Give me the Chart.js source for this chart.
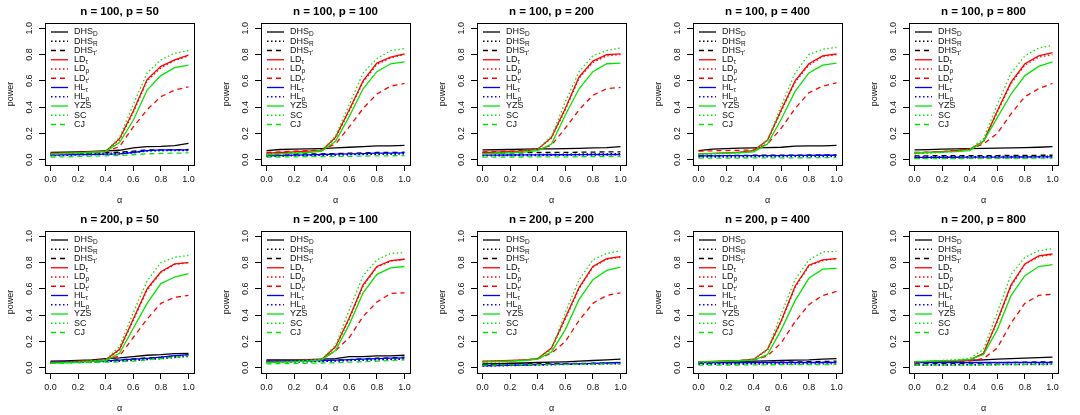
<!DOCTYPE html>
<html>
<head>
<meta charset="utf-8">
<script src="https://cdn.jsdelivr.net/npm/chart.js@4.4.1/dist/chart.umd.min.js"></script>
<style>
  html, body { margin: 0; padding: 0; background: #fff; width: 1080px; height: 415px; overflow: hidden; }
  .panel { position: absolute; width: 216px; height: 207px; }
</style>
</head>
<body>
<div id="wrap"></div>
<script>
// x values and ticks
const alphas = [0, 0.1, 0.2, 0.3, 0.4, 0.5, 0.6, 0.7, 0.8, 0.9, 1.0];
const xTicks = [0, 0.2, 0.4, 0.6, 0.8, 1.0];
const yTicks = [0, 0.2, 0.4, 0.6, 0.8, 1.0];
const panelTitles = [
  "n = 100, p = 50", "n = 100, p = 100", "n = 100, p = 200", "n = 100, p = 400", "n = 100, p = 800",
  "n = 200, p = 50", "n = 200, p = 100", "n = 200, p = 200", "n = 200, p = 400", "n = 200, p = 800"
];
const legendMain = ["DHS", "DHS", "DHS", "LD", "LD", "LD", "HL", "HL", "YZS", "SC", "CJ"];
const legendSub = ["D", "R", "τ′", "τ", "ρ", "τ′", "τ", "ρ", "", "", ""];

// power curves, one row per panel (same order as panelTitles)
const DHS_D = [
  [0.055,0.058,0.060,0.063,0.068,0.072,0.090,0.100,0.102,0.108,0.125],
  [0.070,0.078,0.080,0.082,0.085,0.090,0.095,0.100,0.105,0.105,0.110],
  [0.075,0.076,0.078,0.080,0.082,0.083,0.085,0.087,0.090,0.092,0.100],
  [0.070,0.080,0.085,0.088,0.090,0.092,0.095,0.103,0.105,0.105,0.110],
  [0.075,0.077,0.080,0.082,0.085,0.087,0.088,0.090,0.092,0.095,0.100],
  [0.050,0.052,0.055,0.060,0.070,0.075,0.085,0.095,0.100,0.108,0.110],
  [0.060,0.060,0.060,0.061,0.065,0.070,0.085,0.085,0.090,0.090,0.095],
  [0.030,0.032,0.034,0.036,0.040,0.042,0.045,0.050,0.055,0.060,0.065],
  [0.040,0.042,0.045,0.047,0.050,0.052,0.055,0.058,0.060,0.065,0.070],
  [0.045,0.048,0.050,0.053,0.057,0.060,0.065,0.070,0.073,0.077,0.080]
];
const DHS_R = [
  [0.040,0.042,0.045,0.047,0.050,0.052,0.060,0.068,0.070,0.072,0.072],
  [0.030,0.032,0.033,0.035,0.035,0.036,0.038,0.040,0.042,0.042,0.045],
  [0.035,0.036,0.037,0.038,0.040,0.040,0.042,0.043,0.045,0.045,0.047],
  [0.025,0.026,0.027,0.028,0.028,0.029,0.030,0.030,0.031,0.032,0.032],
  [0.022,0.022,0.023,0.023,0.024,0.024,0.025,0.025,0.026,0.026,0.027],
  [0.040,0.042,0.044,0.046,0.048,0.050,0.056,0.062,0.068,0.078,0.085],
  [0.045,0.046,0.047,0.048,0.050,0.052,0.055,0.058,0.060,0.062,0.065],
  [0.020,0.021,0.022,0.023,0.024,0.025,0.026,0.027,0.028,0.029,0.030],
  [0.030,0.031,0.032,0.033,0.034,0.035,0.036,0.037,0.038,0.040,0.042],
  [0.020,0.021,0.022,0.023,0.024,0.025,0.026,0.027,0.028,0.029,0.030]
];
const DHS_T = [
  [0.045,0.047,0.050,0.052,0.055,0.057,0.065,0.075,0.075,0.076,0.078],
  [0.040,0.042,0.043,0.045,0.045,0.047,0.050,0.052,0.055,0.055,0.057],
  [0.050,0.051,0.052,0.053,0.055,0.055,0.056,0.057,0.058,0.060,0.060],
  [0.030,0.031,0.032,0.033,0.034,0.034,0.035,0.035,0.036,0.036,0.037],
  [0.030,0.030,0.031,0.031,0.032,0.032,0.032,0.033,0.033,0.034,0.034],
  [0.042,0.044,0.046,0.050,0.055,0.060,0.068,0.075,0.080,0.090,0.098],
  [0.050,0.051,0.052,0.053,0.055,0.058,0.062,0.068,0.072,0.075,0.080],
  [0.025,0.026,0.027,0.028,0.030,0.031,0.032,0.033,0.034,0.035,0.036],
  [0.035,0.036,0.037,0.038,0.040,0.041,0.042,0.044,0.046,0.048,0.050],
  [0.030,0.031,0.032,0.033,0.035,0.036,0.038,0.040,0.042,0.044,0.045]
];
const LD_T = [
  [0.050,0.052,0.055,0.060,0.065,0.160,0.370,0.610,0.710,0.760,0.795],
  [0.050,0.055,0.060,0.065,0.070,0.170,0.380,0.600,0.735,0.780,0.805],
  [0.055,0.058,0.062,0.068,0.080,0.170,0.390,0.630,0.750,0.800,0.805],
  [0.045,0.048,0.052,0.058,0.070,0.150,0.380,0.600,0.730,0.790,0.805],
  [0.050,0.055,0.062,0.070,0.080,0.140,0.370,0.590,0.730,0.790,0.815],
  [0.040,0.045,0.050,0.055,0.060,0.140,0.370,0.600,0.730,0.790,0.800],
  [0.050,0.052,0.055,0.058,0.062,0.160,0.380,0.630,0.770,0.815,0.825],
  [0.050,0.052,0.055,0.060,0.070,0.150,0.380,0.610,0.770,0.830,0.845],
  [0.045,0.048,0.052,0.056,0.065,0.140,0.360,0.620,0.780,0.820,0.830],
  [0.040,0.044,0.048,0.052,0.060,0.110,0.360,0.630,0.790,0.850,0.865]
];
const LD_R = [
  [0.045,0.048,0.052,0.058,0.063,0.150,0.360,0.600,0.700,0.755,0.790],
  [0.045,0.050,0.055,0.062,0.068,0.165,0.370,0.590,0.725,0.775,0.800],
  [0.052,0.055,0.060,0.066,0.078,0.165,0.380,0.620,0.740,0.790,0.800],
  [0.042,0.045,0.050,0.056,0.068,0.145,0.370,0.590,0.720,0.785,0.800],
  [0.048,0.053,0.060,0.068,0.078,0.135,0.360,0.580,0.720,0.780,0.800],
  [0.038,0.043,0.048,0.053,0.058,0.135,0.360,0.590,0.725,0.785,0.800],
  [0.048,0.050,0.053,0.056,0.060,0.155,0.370,0.620,0.765,0.810,0.825],
  [0.048,0.050,0.053,0.058,0.068,0.145,0.370,0.600,0.765,0.825,0.840],
  [0.043,0.046,0.050,0.054,0.063,0.135,0.350,0.610,0.775,0.815,0.830],
  [0.038,0.042,0.046,0.050,0.058,0.108,0.350,0.620,0.785,0.845,0.860]
];
const LD_T2 = [
  [0.048,0.050,0.053,0.058,0.062,0.100,0.250,0.380,0.480,0.530,0.555],
  [0.055,0.060,0.065,0.070,0.075,0.120,0.250,0.390,0.500,0.560,0.580],
  [0.060,0.062,0.066,0.070,0.078,0.110,0.240,0.380,0.490,0.540,0.550],
  [0.065,0.068,0.070,0.072,0.075,0.120,0.240,0.390,0.510,0.560,0.585],
  [0.055,0.058,0.062,0.070,0.080,0.120,0.200,0.350,0.480,0.540,0.580],
  [0.040,0.044,0.048,0.052,0.058,0.090,0.230,0.370,0.490,0.535,0.550],
  [0.045,0.048,0.052,0.056,0.062,0.130,0.230,0.390,0.500,0.565,0.570],
  [0.045,0.048,0.052,0.058,0.068,0.110,0.200,0.360,0.490,0.550,0.570],
  [0.040,0.043,0.046,0.050,0.058,0.090,0.190,0.350,0.480,0.550,0.580],
  [0.035,0.038,0.042,0.046,0.052,0.070,0.150,0.340,0.490,0.550,0.560]
];
const HL_T = [
  [0.035,0.037,0.040,0.040,0.042,0.045,0.055,0.070,0.075,0.075,0.075],
  [0.030,0.032,0.035,0.037,0.040,0.042,0.045,0.047,0.050,0.050,0.052],
  [0.035,0.035,0.036,0.037,0.037,0.038,0.038,0.039,0.040,0.040,0.040],
  [0.030,0.030,0.031,0.031,0.032,0.032,0.032,0.033,0.033,0.034,0.034],
  [0.018,0.018,0.019,0.019,0.020,0.020,0.020,0.021,0.021,0.022,0.022],
  [0.040,0.042,0.045,0.048,0.052,0.058,0.065,0.072,0.080,0.092,0.100],
  [0.050,0.051,0.052,0.053,0.055,0.058,0.062,0.066,0.070,0.073,0.075],
  [0.015,0.017,0.019,0.021,0.023,0.025,0.027,0.030,0.033,0.036,0.040],
  [0.040,0.040,0.040,0.040,0.040,0.040,0.040,0.040,0.040,0.040,0.040],
  [0.040,0.040,0.040,0.040,0.040,0.040,0.040,0.040,0.040,0.040,0.040]
];
const HL_R = [
  [0.030,0.033,0.036,0.038,0.040,0.043,0.052,0.066,0.070,0.070,0.070],
  [0.025,0.027,0.030,0.032,0.035,0.037,0.040,0.042,0.045,0.045,0.047],
  [0.030,0.030,0.031,0.032,0.032,0.033,0.034,0.035,0.036,0.036,0.037],
  [0.020,0.020,0.021,0.021,0.022,0.022,0.022,0.023,0.023,0.024,0.024],
  [0.012,0.012,0.013,0.013,0.014,0.014,0.014,0.015,0.015,0.016,0.016],
  [0.035,0.038,0.040,0.043,0.047,0.052,0.058,0.066,0.074,0.086,0.095],
  [0.040,0.042,0.043,0.045,0.047,0.050,0.054,0.058,0.062,0.066,0.068],
  [0.012,0.014,0.016,0.018,0.020,0.022,0.024,0.027,0.030,0.033,0.036],
  [0.025,0.025,0.026,0.026,0.027,0.027,0.028,0.028,0.029,0.029,0.030],
  [0.020,0.020,0.021,0.021,0.022,0.022,0.023,0.023,0.024,0.024,0.025]
];
const YZS = [
  [0.045,0.048,0.052,0.057,0.062,0.130,0.300,0.530,0.640,0.700,0.720],
  [0.040,0.045,0.050,0.055,0.065,0.140,0.330,0.540,0.670,0.730,0.745],
  [0.045,0.048,0.052,0.058,0.070,0.120,0.340,0.540,0.670,0.730,0.735],
  [0.045,0.047,0.050,0.053,0.060,0.120,0.310,0.520,0.660,0.720,0.735],
  [0.055,0.056,0.058,0.062,0.070,0.140,0.320,0.500,0.640,0.710,0.745],
  [0.035,0.038,0.042,0.048,0.055,0.110,0.300,0.490,0.640,0.690,0.715],
  [0.040,0.042,0.045,0.050,0.060,0.130,0.330,0.570,0.710,0.760,0.770],
  [0.045,0.047,0.050,0.055,0.065,0.120,0.290,0.520,0.670,0.740,0.765],
  [0.045,0.047,0.050,0.053,0.058,0.100,0.290,0.510,0.680,0.750,0.755],
  [0.045,0.048,0.052,0.056,0.062,0.100,0.290,0.550,0.700,0.770,0.785]
];
const SC = [
  [0.040,0.045,0.050,0.055,0.062,0.170,0.420,0.660,0.760,0.810,0.830],
  [0.035,0.042,0.050,0.058,0.068,0.180,0.420,0.660,0.770,0.830,0.845],
  [0.045,0.050,0.056,0.064,0.080,0.180,0.440,0.670,0.790,0.830,0.850],
  [0.040,0.044,0.048,0.054,0.065,0.150,0.410,0.660,0.800,0.840,0.855],
  [0.045,0.050,0.056,0.064,0.080,0.160,0.420,0.660,0.790,0.850,0.870],
  [0.035,0.040,0.046,0.052,0.060,0.160,0.420,0.660,0.800,0.840,0.855],
  [0.040,0.044,0.050,0.056,0.065,0.170,0.440,0.700,0.820,0.870,0.875],
  [0.040,0.044,0.050,0.056,0.070,0.140,0.420,0.670,0.820,0.870,0.890],
  [0.040,0.044,0.050,0.055,0.065,0.140,0.410,0.670,0.820,0.880,0.885],
  [0.045,0.050,0.056,0.062,0.070,0.140,0.420,0.710,0.840,0.890,0.905]
];
const CJ = [
  [0.020,0.022,0.025,0.027,0.030,0.032,0.038,0.045,0.048,0.050,0.052],
  [0.020,0.021,0.022,0.023,0.024,0.025,0.026,0.028,0.030,0.030,0.032],
  [0.020,0.020,0.021,0.021,0.022,0.022,0.022,0.023,0.023,0.024,0.024],
  [0.012,0.012,0.013,0.013,0.014,0.014,0.014,0.015,0.015,0.016,0.016],
  [0.008,0.008,0.009,0.009,0.010,0.010,0.010,0.011,0.011,0.012,0.012],
  [0.035,0.036,0.038,0.040,0.042,0.045,0.050,0.060,0.070,0.080,0.090],
  [0.030,0.031,0.032,0.034,0.036,0.038,0.042,0.046,0.050,0.055,0.060],
  [0.020,0.021,0.022,0.023,0.024,0.025,0.026,0.027,0.028,0.029,0.030],
  [0.020,0.020,0.021,0.021,0.022,0.022,0.023,0.023,0.024,0.024,0.025],
  [0.018,0.019,0.020,0.020,0.021,0.022,0.023,0.024,0.025,0.026,0.027]
];

const FONT = "'Liberation Sans', Arial, Helvetica, sans-serif";
const RED = "#ff0000", BLUE = "#0000ff", GREEN = "#00e600", BLACK = "#000000";
const SOLID = [], DOT = [1.5, 2.5], DASH = [5, 4];

// series look: colour + line type, same order as the legend
const seriesDefs = [
  { vals: DHS_D, color: BLACK, dash: SOLID },
  { vals: DHS_R, color: BLACK, dash: DOT },
  { vals: DHS_T, color: BLACK, dash: DASH },
  { vals: LD_T, color: RED, dash: SOLID },
  { vals: LD_R, color: RED, dash: DOT },
  { vals: LD_T2, color: RED, dash: DASH },
  { vals: HL_T, color: BLUE, dash: SOLID },
  { vals: HL_R, color: BLUE, dash: DOT },
  { vals: YZS, color: GREEN, dash: SOLID },
  { vals: SC, color: GREEN, dash: DOT },
  { vals: CJ, color: GREEN, dash: DASH }
];

// R-style frame, title over the box, rotated y tick labels, in-plot legend
const rStyle = {
  id: "rStyle",
  afterDraw(chart) {
    const a = chart.chartArea, ctx = chart.ctx;
    ctx.save();
    ctx.strokeStyle = "#000";
    ctx.lineWidth = 1;
    ctx.setLineDash([]);
    ctx.strokeRect(Math.round(a.left) + 0.5, Math.round(a.top) + 0.5,
      Math.round(a.right - a.left), Math.round(a.bottom - a.top));

    // title centred over the plot box
    ctx.fillStyle = "#000";
    ctx.font = "bold 11.5px " + FONT;
    ctx.textAlign = "center";
    ctx.textBaseline = "middle";
    ctx.fillText(chart.options.rTitle, (a.left + a.right) / 2, 12);

    // y tick labels parallel to the axis
    const ys = chart.scales.y;
    ctx.fillStyle = "#111";
    ctx.font = "9px " + FONT;
    ys.ticks.forEach((t) => {
      const py = ys.getPixelForValue(t.value);
      ctx.save();
      ctx.translate(a.left - 15, py);
      ctx.rotate(-Math.PI / 2);
      ctx.fillText(t.value.toFixed(1), 0, 0);
      ctx.restore();
    });

    // legend
    chart.data.datasets.forEach((ds, i) => {
      const y = a.top + 9 + i * 9.25;
      ctx.strokeStyle = ds.borderColor;
      ctx.lineWidth = 1.3;
      ctx.setLineDash(ds.borderDash);
      ctx.beginPath();
      ctx.moveTo(a.left + 6, y);
      ctx.lineTo(a.left + 23, y);
      ctx.stroke();
      ctx.setLineDash([]);
      ctx.fillStyle = "#111";
      ctx.textAlign = "left";
      ctx.font = "9px " + FONT;
      const tx = a.left + 29;
      ctx.fillText(legendMain[i], tx, y);
      if (legendSub[i]) {
        const w = ctx.measureText(legendMain[i]).width;
        ctx.font = "6.5px " + FONT;
        ctx.fillText(legendSub[i], tx + w, y + 2.5);
      }
    });
    ctx.restore();
  }
};

const wrap = document.getElementById("wrap");
panelTitles.forEach((title, p) => {
  const div = document.createElement("div");
  div.className = "panel";
  div.style.left = (p % 5) * 216 + "px";
  div.style.top = Math.floor(p / 5) * 208 + "px";
  const cv = document.createElement("canvas");
  cv.width = 216;
  cv.height = 207;
  div.appendChild(cv);
  wrap.appendChild(div);

  const datasets = seriesDefs.map((s, i) => ({
    label: legendMain[i] + legendSub[i],
    data: alphas.map((a, k) => ({ x: a, y: s.vals[p][k] })),
    borderColor: s.color,
    borderDash: s.dash,
    borderWidth: 1.3,
    pointRadius: 0,
    tension: 0,
    fill: false,
    order: 11 - i
  }));

  new Chart(cv, {
    type: "line",
    data: { datasets },
    plugins: [rStyle],
    options: {
      rTitle: title,
      responsive: false,
      animation: false,
      layout: { padding: { left: 0, right: 22, top: 23, bottom: 0 } },
      plugins: {
        legend: { display: false },
        tooltip: { enabled: false },
        title: { display: false }
      },
      scales: {
        x: {
          type: "linear",
          min: -0.04,
          max: 1.04,
          afterBuildTicks: (sc) => { sc.ticks = xTicks.map((v) => ({ value: v })); },
          afterFit: (sc) => { sc.height = 42; },
          grid: { drawOnChartArea: false, drawTicks: true, tickLength: 6, color: "#000", lineWidth: 1 },
          border: { display: false },
          ticks: {
            color: "#111",
            padding: 3,
            maxRotation: 0,
            font: { family: FONT, size: 9 },
            callback: (v) => Number(v).toFixed(1)
          },
          title: {
            display: true,
            text: "α",
            color: "#111",
            font: { family: FONT, size: 9 },
            padding: { top: 0, bottom: 1 }
          }
        },
        y: {
          type: "linear",
          min: -0.04,
          max: 1.04,
          afterBuildTicks: (sc) => { sc.ticks = yTicks.map((v) => ({ value: v })); },
          afterFit: (sc) => { sc.width = 45; },
          grid: { drawOnChartArea: false, drawTicks: true, tickLength: 6, color: "#000", lineWidth: 1 },
          border: { display: false },
          ticks: { display: false },
          title: {
            display: true,
            text: "power",
            color: "#111",
            font: { family: FONT, size: 9 },
            padding: { top: 5, bottom: 0 }
          }
        }
      }
    }
  });
});
</script>
</body>
</html>
